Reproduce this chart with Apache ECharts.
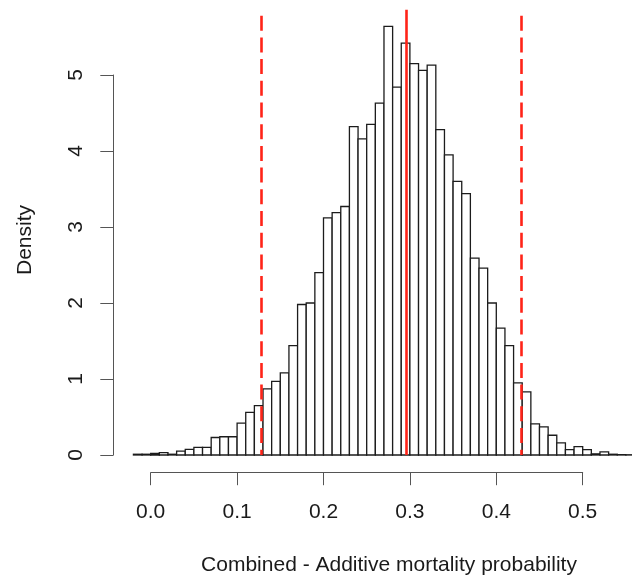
<!DOCTYPE html>
<html>
<head>
<meta charset="utf-8">
<script src="https://cdn.jsdelivr.net/npm/echarts@6/dist/echarts.min.js"></script>
<style>
  html, body { margin: 0; padding: 0; background: #fff; }
  #chart { width: 632px; height: 577px; }
</style>
</head>
<body>
<div id="chart"></div>
<script>
// histogram bin edges (width 0.01)
const binEdges = [-0.02, -0.01, 0.00, 0.01, 0.02, 0.03, 0.04, 0.05, 0.06, 0.07,
  0.08, 0.09, 0.10, 0.11, 0.12, 0.13, 0.14, 0.15, 0.16, 0.17,
  0.18, 0.19, 0.20, 0.21, 0.22, 0.23, 0.24, 0.25, 0.26, 0.27,
  0.28, 0.29, 0.30, 0.31, 0.32, 0.33, 0.34, 0.35, 0.36, 0.37,
  0.38, 0.39, 0.40, 0.41, 0.42, 0.43, 0.44, 0.45, 0.46, 0.47,
  0.48, 0.49, 0.50, 0.51, 0.52, 0.53, 0.54, 0.55, 0.56];

// density of each bin
const density = [0.01, 0.01, 0.02, 0.03, 0.01, 0.05, 0.075, 0.10, 0.10, 0.23,
  0.24, 0.24, 0.42, 0.56, 0.65, 0.87, 0.97, 1.08, 1.44, 1.98,
  2.00, 2.40, 3.12, 3.19, 3.27, 4.32, 4.16, 4.35, 4.63, 5.64,
  4.84, 5.42, 5.15, 5.06, 5.13, 4.28, 3.95, 3.60, 3.44, 2.59,
  2.46, 2.00, 1.67, 1.44, 0.95, 0.83, 0.41, 0.37, 0.26, 0.16,
  0.07, 0.11, 0.07, 0.015, 0.04, 0.01, 0.005, 0.003];

// vertical reference lines: lower bound, mean, upper bound
const refX = [0.1285, 0.2963, 0.4286];
const refTop = [5.78, 5.86, 5.78];
const refDashed = [true, false, true];

const xTicks = [0, 0.1, 0.2, 0.3, 0.4, 0.5];
const yTicks = [0, 1, 2, 3, 4, 5];

const FONT = '"Liberation Sans", Arial, Helvetica, sans-serif';
const FONT_SIZE = 21;
const RED = '#ff2418';

const bins = density.map((d, i) => [binEdges[i], binEdges[i + 1], d]);

const refLines = refX.map((x, i) => ([
  { coord: [x, refTop[i]] },
  {
    coord: [x, 0],
    lineStyle: {
      color: RED,
      width: 2.6,
      type: refDashed[i] ? [15, 6.7] : 'solid'
    }
  }
]));

const chart = echarts.init(document.getElementById('chart'), null, { renderer: 'canvas' });

const option = {
  animation: false,
  backgroundColor: '#fff',
  grid: [
    // plot region (data)
    { left: 120, width: 512, top: 6.6, height: 448.4 },
    // left axis drawn R-style, only from 0 to 5
    { left: 113.3, width: 10, top: 75, height: 380 },
    // bottom axis, only from 0.0 to 0.5
    { left: 150.7, width: 432, top: 460, height: 12.7 }
  ],
  xAxis: [
    {
      gridIndex: 0, type: 'value',
      min: -0.035532, max: 0.55706,
      show: false
    },
    { gridIndex: 1, type: 'value', show: false },
    {
      gridIndex: 2, type: 'value',
      min: xTicks[0], max: xTicks[xTicks.length - 1], interval: 0.1,
      position: 'bottom',
      axisLine: { show: true, lineStyle: { color: '#555', width: 1 } },
      axisTick: { show: true, length: 12.5, lineStyle: { color: '#555', width: 1 } },
      axisLabel: {
        margin: 29,
        fontFamily: FONT, fontSize: FONT_SIZE, color: '#1a1a1a',
        formatter: v => v.toFixed(1)
      },
      splitLine: { show: false }
    }
  ],
  yAxis: [
    {
      gridIndex: 0, type: 'value',
      min: 0, max: 5.9,
      show: false
    },
    {
      gridIndex: 1, type: 'value',
      min: yTicks[0], max: yTicks[yTicks.length - 1], interval: 1,
      position: 'left',
      axisLine: { show: true, lineStyle: { color: '#555', width: 1 } },
      axisTick: { show: true, length: 13, lineStyle: { color: '#555', width: 1 } },
      axisLabel: {
        rotate: 90, margin: 27,
        fontFamily: FONT, fontSize: FONT_SIZE, color: '#1a1a1a'
      },
      splitLine: { show: false }
    },
    { gridIndex: 2, type: 'value', show: false }
  ],
  series: [
    {
      type: 'custom',
      xAxisIndex: 0, yAxisIndex: 0,
      data: bins,
      renderItem: (params, api) => {
        const p0 = api.coord([api.value(0), api.value(2)]);
        const p1 = api.coord([api.value(1), 0]);
        return {
          type: 'rect',
          shape: { x: p0[0], y: p0[1], width: p1[0] - p0[0], height: p1[1] - p0[1] },
          style: { fill: '#fff', stroke: '#1c1c1c', lineWidth: 1.3 }
        };
      },
      silent: true
    },
    {
      type: 'line',
      xAxisIndex: 0, yAxisIndex: 0,
      data: [],
      markLine: {
        silent: true,
        symbol: ['none', 'none'],
        label: { show: false },
        data: refLines
      }
    }
  ],
  graphic: [
    {
      type: 'text', x: 25, y: 240, rotation: Math.PI / 2,
      style: {
        text: 'Density', fontFamily: FONT, fontSize: FONT_SIZE, fill: '#1a1a1a',
        textAlign: 'center', textVerticalAlign: 'middle'
      }
    },
    {
      type: 'text', x: 389, y: 565,
      style: {
        text: 'Combined - Additive mortality probability', fontFamily: FONT, fontSize: FONT_SIZE, fill: '#1a1a1a',
        textAlign: 'center', textVerticalAlign: 'middle'
      }
    }
  ]
};

chart.setOption(option);
</script>
</body>
</html>
